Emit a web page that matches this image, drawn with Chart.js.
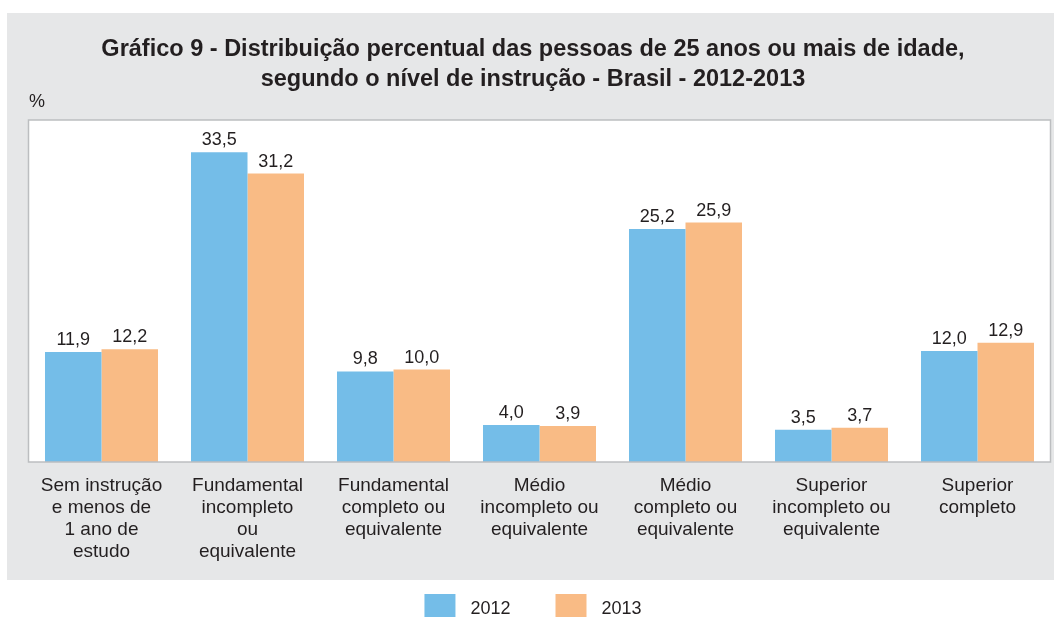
<!DOCTYPE html>
<html><head><meta charset="utf-8">
<script src="https://cdn.jsdelivr.net/npm/chart.js@4/dist/chart.umd.min.js"></script>
<style>html,body{margin:0;padding:0;background:#fff;overflow:hidden}#wrap{width:1054px;height:617px;position:relative}</style>
</head><body><div id="wrap"><canvas id="c" width="1054" height="617"></canvas></div>
<script>
const categories = [
  ["Sem instrução","e menos de","1 ano de","estudo"],
  ["Fundamental","incompleto","ou","equivalente"],
  ["Fundamental","completo ou","equivalente"],
  ["Médio","incompleto ou","equivalente"],
  ["Médio","completo ou","equivalente"],
  ["Superior","incompleto ou","equivalente"],
  ["Superior","completo"]
];
const seriesNames = ["2012","2013"];
const values2012 = [11.9, 33.5, 9.8, 4.0, 25.2, 3.5, 12.0];
const values2013 = [12.2, 31.2, 10.0, 3.9, 25.9, 3.7, 12.9];
const titleLines = ["Gráfico 9 - Distribuição percentual das pessoas de 25 anos ou mais de idade,",
                    "segundo o nível de instrução - Brasil - 2012-2013"];
const unitLabel = "%";

const TEXT = "#231f20";
const BLUE = "#74bde8";
const ORANGE = "#f9bb85";
const FONT = "'Liberation Sans', Arial, sans-serif";

const decor = {
  id: "decor",
  beforeDraw(chart) {
    const ctx = chart.ctx, a = chart.chartArea;
    ctx.save();
    ctx.fillStyle = "#ffffff";
    ctx.fillRect(0, 0, chart.width, chart.height);
    ctx.fillStyle = "#e6e7e8";
    ctx.fillRect(7, 13, chart.width - 7, 567);
    ctx.fillStyle = "#ffffff";
    ctx.fillRect(a.left, a.top, a.right - a.left, a.bottom - a.top);
    // title
    ctx.fillStyle = TEXT;
    ctx.textAlign = "center";
    ctx.textBaseline = "middle";
    ctx.font = "bold 23.5px " + FONT;
    ctx.fillText(titleLines[0], 533, 50);
    ctx.fillText(titleLines[1], 533, 80);
    ctx.textAlign = "left";
    ctx.font = "18px " + FONT;
    ctx.fillText(unitLabel, 29, 102);
    ctx.restore();
  },
  afterDatasetsDraw(chart) {
    const ctx = chart.ctx, a = chart.chartArea;
    ctx.save();
    ctx.strokeStyle = "#bcbec0";
    ctx.lineWidth = 1.5;
    ctx.strokeRect(a.left, a.top, a.right - a.left, a.bottom - a.top);
    ctx.fillStyle = TEXT;
    ctx.font = "18px " + FONT;
    ctx.textAlign = "center";
    ctx.textBaseline = "alphabetic";
    chart.data.datasets.forEach((ds, i) => {
      const meta = chart.getDatasetMeta(i);
      meta.data.forEach((el, j) => {
        const v = ds.data[j];
        ctx.fillText(v.toFixed(1).replace(".", ","), el.x, el.y - 7);
      });
    });
    // legend
    const boxW = 31, boxH = 23, gap = 15, itemGap = 45;
    const widths = chart.data.datasets.map(ds => boxW + gap + ctx.measureText(ds.label).width);
    const total = widths.reduce((s, w) => s + w, 0) + itemGap * (widths.length - 1);
    let x = 533 - total / 2;
    const yTop = 594;
    chart.data.datasets.forEach((ds, i) => {
      ctx.fillStyle = ds.backgroundColor;
      ctx.fillRect(x, yTop, boxW, boxH);
      ctx.fillStyle = TEXT;
      ctx.textAlign = "left";
      ctx.textBaseline = "middle";
      ctx.fillText(ds.label, x + boxW + gap, 609);
      x += widths[i] + itemGap;
    });
    ctx.restore();
  }
};

new Chart(document.getElementById("c"), {
  type: "bar",
  data: {
    labels: categories,
    datasets: [
      { label: seriesNames[0], data: values2012, backgroundColor: BLUE },
      { label: seriesNames[1], data: values2013, backgroundColor: ORANGE }
    ]
  },
  options: {
    responsive: false,
    animation: false,
    devicePixelRatio: 1,
    layout: { padding: { left: 28.5, right: 3.5, top: 120, bottom: 0 } },
    plugins: { legend: { display: false }, title: { display: false }, tooltip: { enabled: false } },
    datasets: { bar: { categoryPercentage: 0.774, barPercentage: 1.0 } },
    scales: {
      x: {
        grid: { display: false, drawTicks: false },
        border: { display: false },
        ticks: { color: TEXT, font: { family: FONT, size: 19, lineHeight: 1.16 }, padding: 13, maxRotation: 0, autoSkip: false },
        afterFit(scale) { scale.height = 155; }
      },
      y: { display: false, min: 0, max: 37 }
    }
  },
  plugins: [decor]
});
</script>
</body></html>
